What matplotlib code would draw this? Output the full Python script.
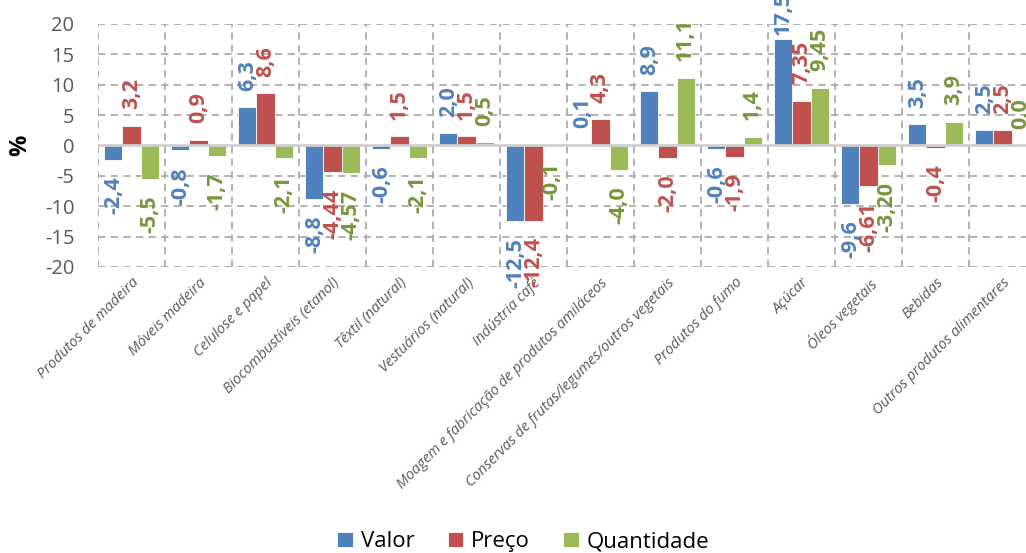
import matplotlib
matplotlib.use("Agg")
import matplotlib.pyplot as plt
import numpy as np

categories = ["Produtos de madeira", "Móveis madeira", "Celulose e papel",
              "Biocombustíveis (etanol)", "Têxtil (natural)", "Vestuários (natural)",
              "Indústria café", "Moagem e fabricação de produtos amiláceos",
              "Conservas de frutas/legumes/outros vegetais", "Produtos do fumo",
              "Açúcar", "Óleos vegetais", "Bebidas", "Outros produtos alimentares"]
valor = [-2.4, -0.8, 6.3, -8.8, -0.6, 2.0, -12.5, 0.1, 8.9, -0.6, 17.5, -9.6, 3.5, 2.5]
preco = [3.2, 0.9, 8.6, -4.44, 1.5, 1.5, -12.4, 4.3, -2.0, -1.9, 7.35, -6.61, -0.4, 2.5]
quantidade = [-5.5, -1.7, -2.1, -4.57, -2.1, 0.5, -0.1, -4.0, 11.1, 1.4, 9.45, -3.20, 3.9, 0.0]
valor_lbl = ["-2,4", "-0,8", "6,3", "-8,8", "-0,6", "2,0", "-12,5", "0,1", "8,9", "-0,6", "17,5", "-9,6", "3,5", "2,5"]
preco_lbl = ["3,2", "0,9", "8,6", "-4,44", "1,5", "1,5", "-12,4", "4,3", "-2,0", "-1,9", "7,35", "-6,61", "-0,4", "2,5"]
quant_lbl = ["-5,5", "-1,7", "-2,1", "-4,57", "-2,1", "0,5", "-0,1", "-4,0", "11,1", "1,4", "9,45", "-3,20", "3,9", "0,0"]
yticks = [-20, -15, -10, -5, 0, 5, 10, 15, 20]
series_names = ["Valor", "Preço", "Quantidade"]

bar_colors = ["#4F81BD", "#C0504D", "#9BBB59"]
text_colors = ["#4F81BD", "#C0504D", "#77973C"]

plt.rcParams['font.family'] = ['Open Sans', 'DejaVu Sans']

fig = plt.figure(figsize=(10.26, 5.53), dpi=100)
ax = fig.add_axes([98/1026, 1-267/553, 938/1026, 243/553])

x = np.arange(len(categories))
w = 0.27
data = [valor, preco, quantidade]
labels = [valor_lbl, preco_lbl, quant_lbl]
for k in range(3):
    xs = x + (k - 1) * w
    ax.bar(xs, data[k], width=w, color=bar_colors[k], edgecolor="white",
           linewidth=0.6, label=series_names[k], zorder=3)
    for xi, v, t in zip(xs, data[k], labels[k]):
        if v >= 0:
            # labels that would leave the chart area are pulled closer to the bar
            off = 12 if v < 15 else 3
            ax.annotate(t, (xi, v), xytext=(0, off), textcoords="offset points",
                        rotation=90, ha="center", va="bottom", fontsize=15.5,
                        fontweight="bold", color=text_colors[k], annotation_clip=False,
                        zorder=5)
        else:
            ax.annotate(t, (xi, v), xytext=(0, -12), textcoords="offset points",
                        rotation=90, ha="center", va="top", fontsize=15.5,
                        fontweight="bold", color=text_colors[k], annotation_clip=False,
                        zorder=5)

ax.set_xlim(-0.5, len(categories) - 0.5)
ax.set_ylim(-20, 20)
ax.set_yticks(yticks)
ax.set_yticklabels([str(v) for v in yticks])
ax.tick_params(axis="y", length=0, labelsize=14.5, labelcolor="#595959", pad=17)
ax.set_xticks(x)
ax.set_xticklabels(categories, rotation=45, ha="right", rotation_mode="anchor",
                   fontsize=10.5, style="italic", color="#595959")
ax.tick_params(axis="x", length=0, pad=6)

for s in ax.spines.values():
    s.set_visible(False)

grid_kw = dict(color="#ABABAB", linewidth=1.3, linestyle=(0, (4, 3)), zorder=1)
for yv in yticks:
    if yv != 0:
        ax.axhline(yv, **grid_kw)
for b in np.arange(-0.5, len(categories), 1.0):
    ax.axvline(b, **grid_kw)
ax.axhline(0, color="#D0D0D0", linewidth=2, zorder=4)

ax.set_ylabel("%", fontsize=17, fontweight="bold", color="black", labelpad=9)

fig.legend(loc="lower center", bbox_to_anchor=(0.51, -0.035), ncol=3, frameon=False,
           fontsize=16, handlelength=0.7, handleheight=0.7, handletextpad=0.35,
           columnspacing=1.5)

fig.savefig("out.png", dpi=100)
